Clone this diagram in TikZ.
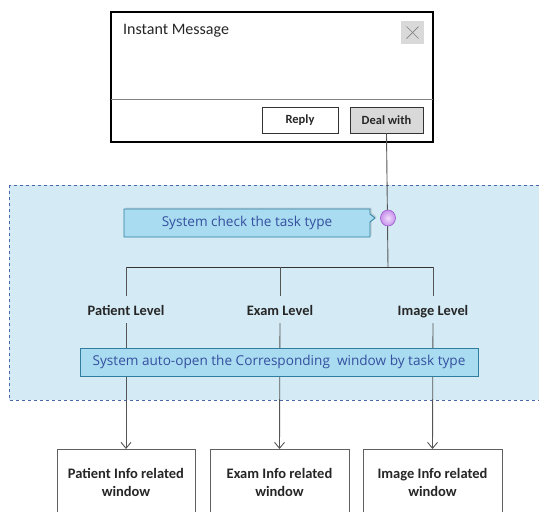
\documentclass[tikz,border=0pt]{standalone}
\usepackage{fontspec}
\setmainfont{Carlito}
\newfontfamily\bluefont{Open Sans}
\usetikzlibrary{arrows.meta,shadows,calc}
\definecolor{regionfill}{HTML}{D4EBF6}
\definecolor{regionedge}{HTML}{4A68A8}
\definecolor{calloutfill}{HTML}{A9DCF0}
\definecolor{calloutedge}{HTML}{2F7E9E}
\definecolor{bluetext}{HTML}{3550A0}
\definecolor{btngray}{HTML}{D9D9D9}
\definecolor{linegray}{HTML}{555555}
\definecolor{dotout}{HTML}{C890EC}
\definecolor{dotin}{HTML}{F0DDFB}
\definecolor{dotedge}{HTML}{9A5CC8}
\tikzset{
  wire/.style={draw=linegray, line width=0.9pt},
  arrowwire/.style={wire, -{Straight Barb[length=6pt,width=10pt]}},
  lvl/.style={anchor=base, font=\bfseries\fontsize{14.4}{16}\selectfont, text=black!85},
  winbox/.style={draw=gray!75!black, line width=0.8pt, fill=white},
  wintext/.style={align=center, font=\bfseries\fontsize{14.5}{18}\selectfont, text=black!85},
  btn/.style={draw=black!80, line width=0.8pt, font=\bfseries\fontsize{12.5}{14}\selectfont, text=black!85},
  bluebox/.style={draw=calloutedge, line width=0.8pt, fill=calloutfill,
    font=\bluefont\fontsize{13.6}{15}\selectfont, text=bluetext}
}
\begin{document}
\begin{tikzpicture}[x=1pt,y=-1pt]
\useasboundingbox (0,0) rectangle (539,512);
\clip (0,0) rectangle (539,512);
% region
\path[fill=regionfill, draw=regionedge, dashed, line width=0.7pt] (9,185) rectangle (545,400);
% message window
\path[fill=white, draw=black, line width=2.6pt] (111,12) rectangle (433,142);
\draw[gray, line width=0.7pt] (111,99) -- (433,99);
\node[anchor=north west, font=\fontsize{16}{18}\selectfont, text=black!85, inner sep=0pt] (title) at (123,24) {Instant Message};
\node[fill=btngray, minimum width=23pt, minimum height=23pt, inner sep=0pt] (close) at (412.5,32.5) {};
\draw[gray, line width=0.7pt] ($(close.center)+(-6,-6)$) -- ($(close.center)+(6,6)$);
\draw[gray, line width=0.7pt] ($(close.center)+(-6,6)$) -- ($(close.center)+(6,-6)$);
\node[btn, fill=white, minimum width=76pt, minimum height=26pt, inner sep=0pt] (reply) at (300,120) {Reply};
\node[btn, fill=btngray, minimum width=73pt, minimum height=26pt, inner sep=0pt] (deal) at (386.5,120) {Deal with};
% callout
\path[fill=calloutfill, draw=calloutedge, line width=0.8pt, drop shadow={opacity=0.25, shadow xshift=1.5pt, shadow yshift=1.5pt}]
  (124,209) -- (370,209) -- (370,214) -- (375,218) -- (370,222) -- (370,237) -- (124,237) -- cycle;
\node[font=\bluefont\fontsize{13.6}{15}\selectfont, text=bluetext] (check) at (247,223) {System check the task type};
% wire
\coordinate (split) at (388,267);
\draw[wire] (deal.south) -- (split);
\shade[inner color=dotin, outer color=dotout, draw=dotedge, line width=0.6pt] (388,218) ellipse (7.5pt and 8pt);
\node[circle, minimum size=1pt, inner sep=0pt] (dot) at (388,218) {};
\coordinate (pl) at (126,267);
\coordinate (el) at (280,267);
\coordinate (il) at (433,267);
\draw[wire, draw=black!80] (pl) -- (il);
\node[lvl] (plab) at (126,315) {Patient Level};
\node[lvl] (elab) at (280,315) {Exam Level};
\node[lvl] (ilab) at (433,315) {Image Level};
\draw[wire] (pl) -- (126,296);
\draw[wire] (el) -- (280,296);
\draw[wire] (il) -- (433,296);
% bottom windows
\node[winbox, minimum width=138pt, minimum height=70pt, anchor=north] (pw) at (126,449) {};
\node[winbox, minimum width=139pt, minimum height=70pt, anchor=north] (ew) at (279.5,449) {};
\node[winbox, minimum width=139pt, minimum height=70pt, anchor=north] (iw) at (432.5,449) {};
\node[wintext] (pwt) at (126,482) {Patient Info related\\window};
\node[wintext] (ewt) at (279.5,482) {Exam Info related\\window};
\node[wintext] (iwt) at (432.5,482) {Image Info related\\window};
\draw[arrowwire] (126,323) -- (pw.north);
\draw[arrowwire] (280,323) -- (ew.north);
\draw[arrowwire] (433,323) -- (iw.north);
% auto-open box
\node[bluebox, minimum width=398pt, minimum height=28pt, inner sep=0pt] (auto) at (279,362) {System auto-open the Corresponding\ \ window by task type};
\end{tikzpicture}
\end{document}
